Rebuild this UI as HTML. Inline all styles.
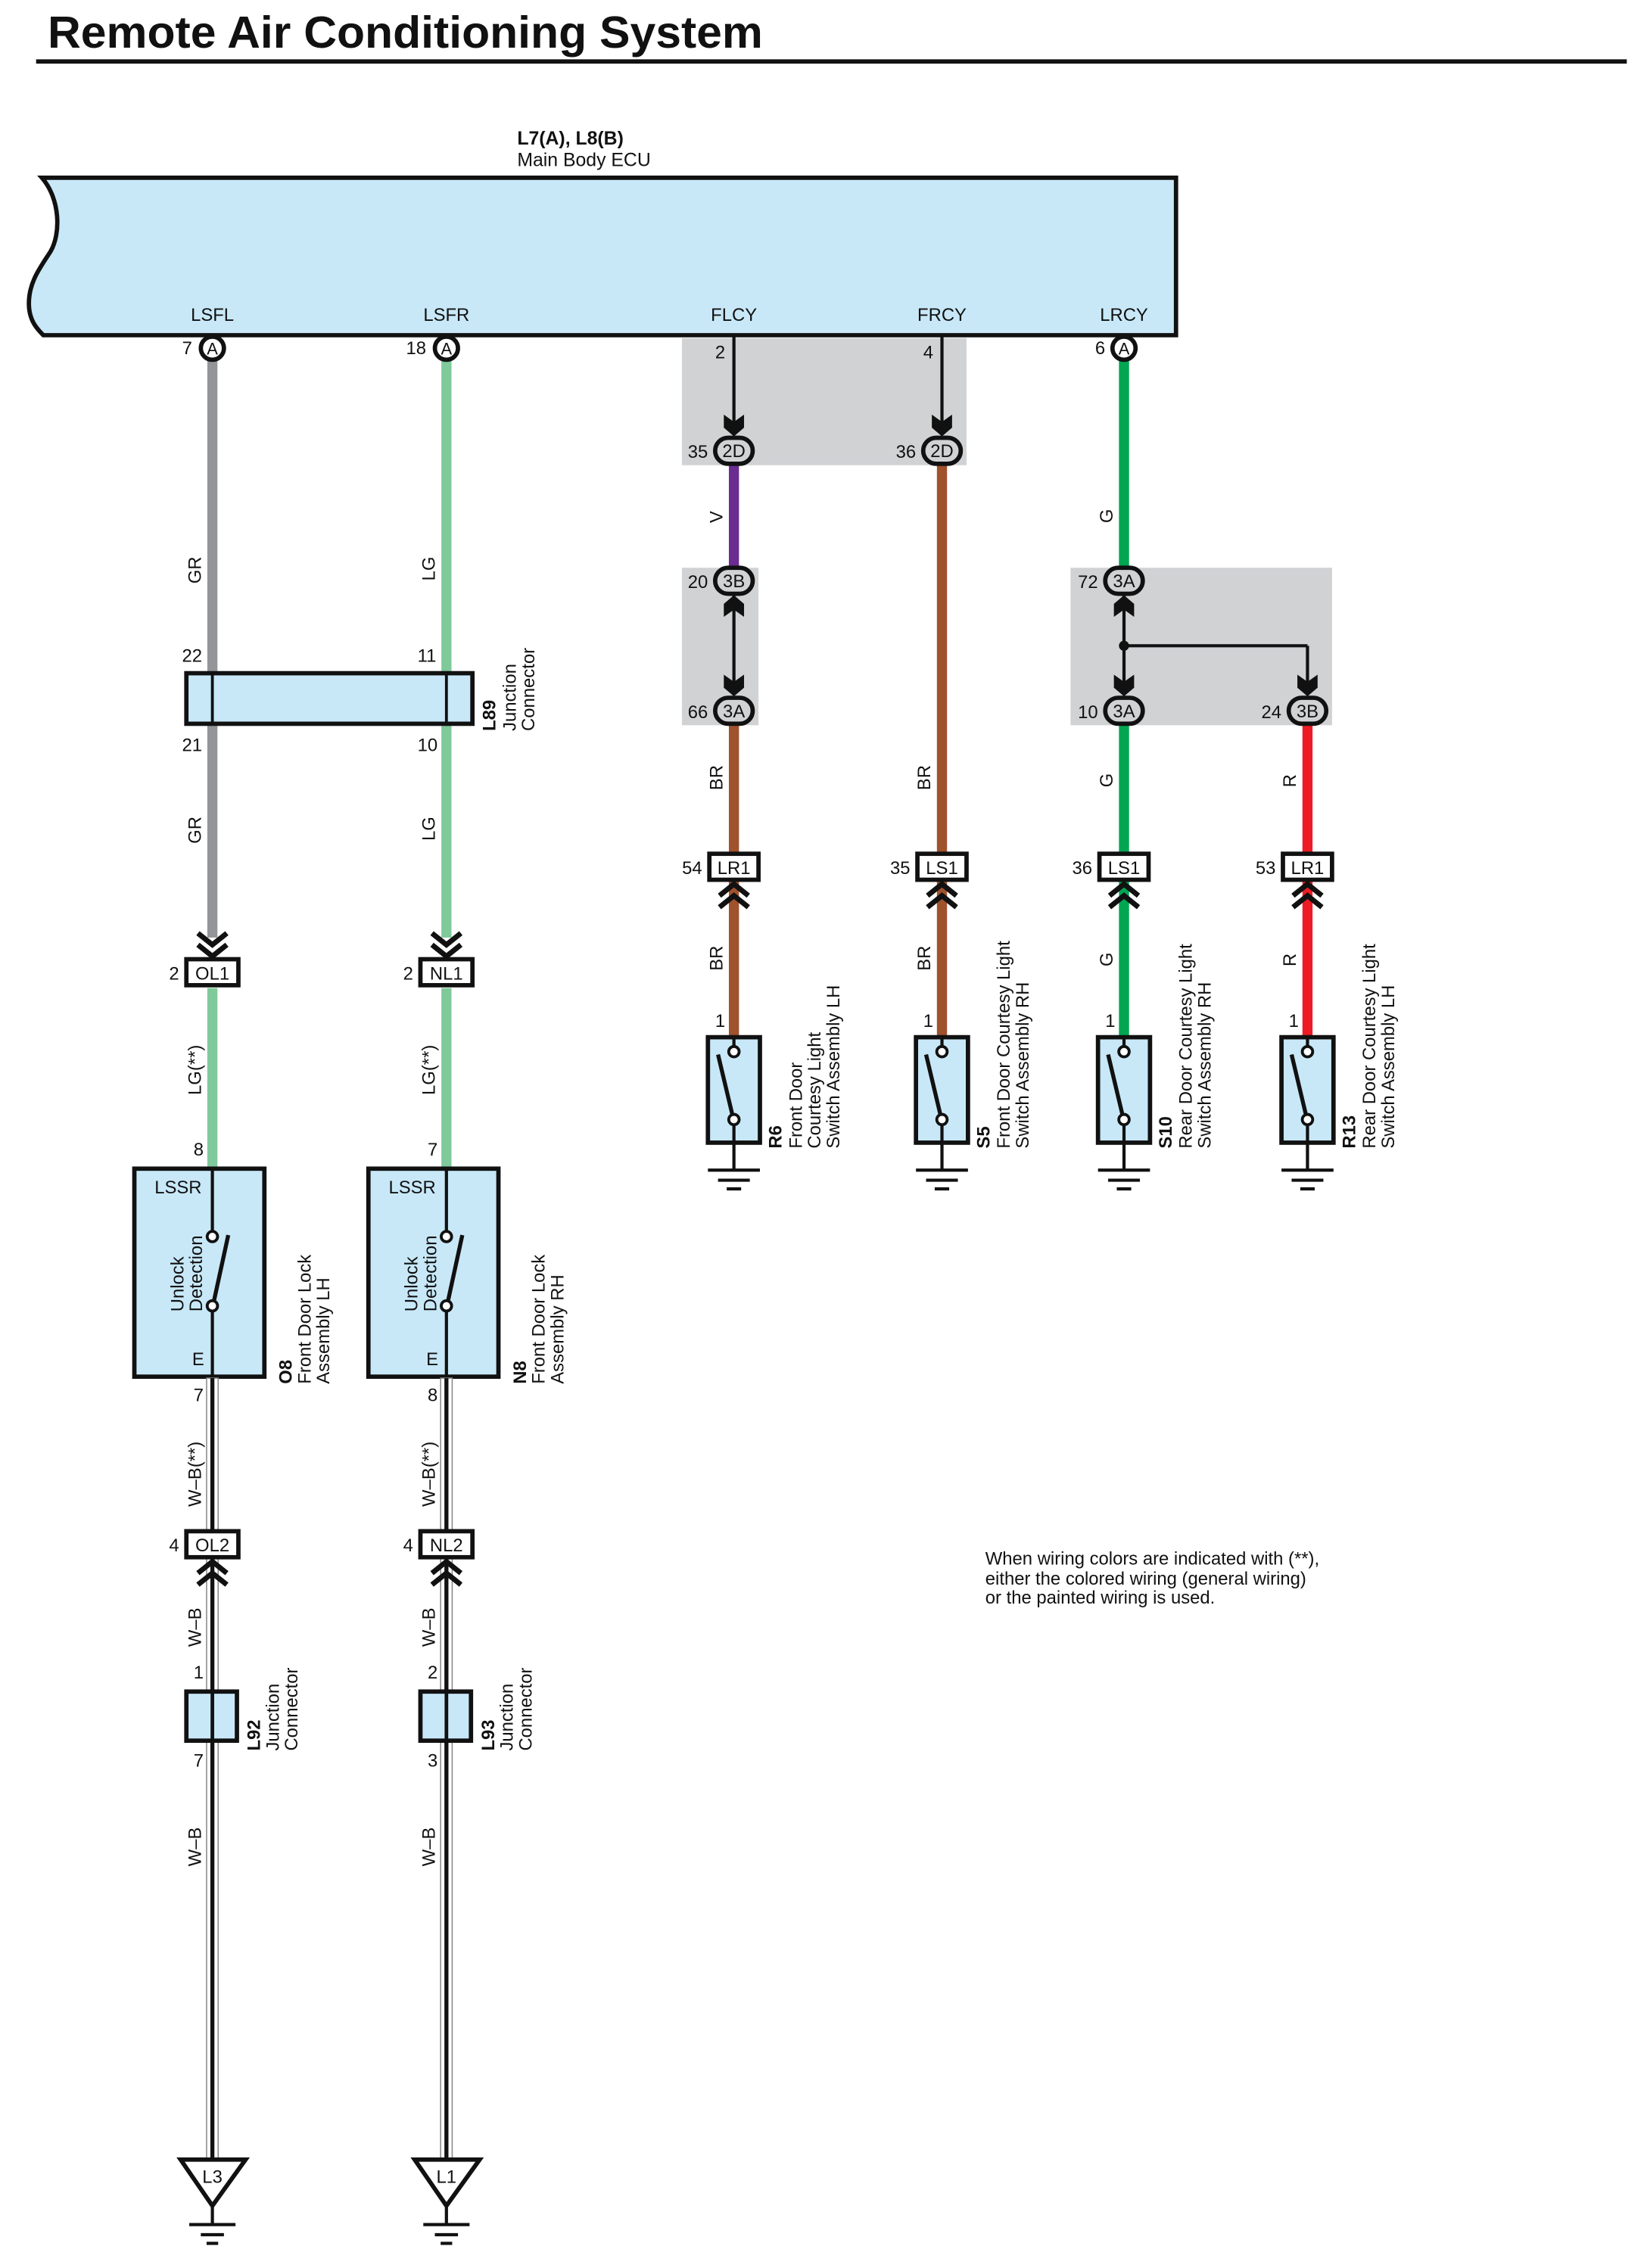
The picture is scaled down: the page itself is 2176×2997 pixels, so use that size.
<!DOCTYPE html>
<html><head><meta charset="utf-8"><style>
html,body{margin:0;padding:0;background:#fff}
svg{display:block}
text{font-family:"Liberation Sans",sans-serif;fill:#111}
.s{font-size:12.5px}
.b{font-weight:bold}
</style></head><body>
<svg width="2176" height="2997" viewBox="0 0 1140 1570" xmlns="http://www.w3.org/2000/svg">
<defs>
<g id="sw">
<rect x="-18" y="0" width="36" height="73" fill="#c8e8f8" stroke="#111" stroke-width="3"/>
<line x1="0" y1="0" x2="0" y2="6" stroke="#111" stroke-width="2.2"/>
<circle cx="0" cy="10" r="3.6" fill="#fff" stroke="#111" stroke-width="2"/>
<circle cx="0" cy="57" r="3.6" fill="#fff" stroke="#111" stroke-width="2"/>
<line x1="-11" y1="12" x2="-1" y2="54" stroke="#111" stroke-width="2.8"/>
<line x1="0" y1="61" x2="0" y2="92" stroke="#111" stroke-width="2.2"/>
<line x1="-18" y1="92" x2="18" y2="92" stroke="#111" stroke-width="2.2"/>
<line x1="-11" y1="99" x2="11" y2="99" stroke="#111" stroke-width="2.2"/>
<line x1="-5" y1="105" x2="5" y2="105" stroke="#111" stroke-width="2.2"/>
</g>
<g id="chd" fill="none" stroke="#111" stroke-width="3.6">
<polyline points="-10,-15 0,-7 10,-15"/><polyline points="-10,-7 0,1 10,-7"/>
</g>
<g id="chu" fill="none" stroke="#111" stroke-width="3.6">
<polyline points="-10,15 0,7 10,15"/><polyline points="-10,7 0,-1 10,7"/>
</g>
<polygon id="ard" points="-7,-15 0,-10 7,-15 7,-6 0,0 -7,-6" fill="#111"/>
<polygon id="aru" points="-7,15 0,10 7,15 7,6 0,0 -7,6" fill="#111"/>
</defs>

<!-- title -->
<text x="33" y="33" class="b" style="font-size:31px" textLength="495" lengthAdjust="spacingAndGlyphs">Remote Air Conditioning System</text>
<rect x="25" y="41" width="1101" height="3" fill="#111"/>

<!-- ECU -->
<text x="358" y="100" class="b" style="font-size:13px">L7(A), L8(B)</text>
<text x="358" y="115" style="font-size:13px">Main Body ECU</text>
<path d="M29,123 L814,123 L814,232 L30,232 C26,228 20,222 20,210 C20,195 28,185 35,174 C42,162 42,138 29,123 Z" fill="#c8e8f8" stroke="#111" stroke-width="3"/>
<g class="s" text-anchor="middle">
<text x="147" y="222">LSFL</text><text x="309" y="222">LSFR</text><text x="508" y="222">FLCY</text><text x="652" y="222">FRCY</text><text x="778" y="222">LRCY</text>
</g>

<!-- gray shaded boxes -->
<rect x="472" y="234" width="197" height="88" fill="#d1d2d4"/>
<rect x="472" y="393" width="53" height="109" fill="#d1d2d4"/>
<rect x="741" y="393" width="181" height="109" fill="#d1d2d4"/>

<!-- LEFT COLUMN 1 (x=147) -->
<rect x="143.5" y="249" width="7" height="400" fill="#939598"/>
<rect x="143.5" y="684" width="7" height="124" fill="#7fc99b"/>
<circle cx="147" cy="241" r="8" fill="#fff" stroke="#111" stroke-width="3"/>
<text x="147" y="245.5" class="s" text-anchor="middle" style="font-size:11.5px">A</text>
<text x="133" y="245" class="s" text-anchor="end">7</text>
<!-- COL 2 (x=309) -->
<rect x="305.5" y="249" width="7" height="400" fill="#7fc99b"/>
<rect x="305.5" y="684" width="7" height="124" fill="#7fc99b"/>
<circle cx="309" cy="241" r="8" fill="#fff" stroke="#111" stroke-width="3"/>
<text x="309" y="245.5" class="s" text-anchor="middle" style="font-size:11.5px">A</text>
<text x="295" y="245" class="s" text-anchor="end">18</text>

<!-- wire labels left -->
<g class="s">
<text transform="translate(139,404) rotate(-90)">GR</text>
<text transform="translate(301,402) rotate(-90)">LG</text>
<text transform="translate(139,584) rotate(-90)">GR</text>
<text transform="translate(301,582) rotate(-90)">LG</text>
<text transform="translate(139,758) rotate(-90)">LG(**)</text>
<text transform="translate(301,758) rotate(-90)">LG(**)</text>
<text transform="translate(139,1043) rotate(-90)">W–B(**)</text>
<text transform="translate(301,1043) rotate(-90)">W–B(**)</text>
<text transform="translate(139,1140) rotate(-90)">W–B</text>
<text transform="translate(301,1140) rotate(-90)">W–B</text>
<text transform="translate(139,1292) rotate(-90)">W–B</text>
<text transform="translate(301,1292) rotate(-90)">W–B</text>
</g>

<!-- L89 -->
<rect x="129" y="466" width="198" height="35" fill="#c8e8f8" stroke="#111" stroke-width="3"/>
<line x1="147" y1="466" x2="147" y2="501" stroke="#111" stroke-width="2"/>
<line x1="309" y1="466" x2="309" y2="501" stroke="#111" stroke-width="2"/>
<g class="s"><text x="126" y="458">22</text><text x="126" y="520">21</text><text x="289" y="458">11</text><text x="289" y="520">10</text></g>
<text transform="translate(343,506) rotate(-90)" class="s b">L89</text>
<text transform="translate(357,506) rotate(-90)" class="s">Junction</text>
<text transform="translate(370,506) rotate(-90)" class="s">Connector</text>

<!-- OL1 / NL1 -->
<use href="#chd" x="147" y="661"/>
<use href="#chd" x="309" y="661"/>
<rect x="129" y="664" width="36" height="18" fill="#fff" stroke="#111" stroke-width="3"/>
<rect x="291" y="664" width="36" height="18" fill="#fff" stroke="#111" stroke-width="3"/>
<g class="s"><text x="147" y="678" text-anchor="middle">OL1</text><text x="309" y="678" text-anchor="middle">NL1</text>
<text x="124" y="678" text-anchor="end">2</text><text x="286" y="678" text-anchor="end">2</text>
<text x="134" y="800">8</text><text x="296" y="800">7</text></g>

<!-- O8 / N8 -->
<g>
<rect x="93" y="809" width="90" height="144" fill="#c8e8f8" stroke="#111" stroke-width="3"/>
<line x1="147" y1="809" x2="147" y2="852" stroke="#111" stroke-width="2.2"/>
<circle cx="147" cy="856" r="3.6" fill="#fff" stroke="#111" stroke-width="2"/>
<circle cx="147" cy="904" r="3.6" fill="#fff" stroke="#111" stroke-width="2"/>
<line x1="148" y1="901" x2="158" y2="855" stroke="#111" stroke-width="2.8"/>
<line x1="147" y1="908" x2="147" y2="953" stroke="#111" stroke-width="2.2"/>
<text x="107" y="826" class="s">LSSR</text><text x="133" y="945" class="s">E</text>
<text transform="translate(127,908) rotate(-90)" class="s">Unlock</text>
<text transform="translate(140,908) rotate(-90)" class="s">Detection</text>
</g>
<g>
<rect x="255" y="809" width="90" height="144" fill="#c8e8f8" stroke="#111" stroke-width="3"/>
<line x1="309" y1="809" x2="309" y2="852" stroke="#111" stroke-width="2.2"/>
<circle cx="309" cy="856" r="3.6" fill="#fff" stroke="#111" stroke-width="2"/>
<circle cx="309" cy="904" r="3.6" fill="#fff" stroke="#111" stroke-width="2"/>
<line x1="310" y1="901" x2="320" y2="855" stroke="#111" stroke-width="2.8"/>
<line x1="309" y1="908" x2="309" y2="953" stroke="#111" stroke-width="2.2"/>
<text x="269" y="826" class="s">LSSR</text><text x="295" y="945" class="s">E</text>
<text transform="translate(289,908) rotate(-90)" class="s">Unlock</text>
<text transform="translate(302,908) rotate(-90)" class="s">Detection</text>
</g>
<text transform="translate(202,958) rotate(-90)" class="s b">O8</text>
<text transform="translate(215,958) rotate(-90)" class="s">Front Door Lock</text>
<text transform="translate(228,958) rotate(-90)" class="s">Assembly LH</text>
<text transform="translate(364,958) rotate(-90)" class="s b">N8</text>
<text transform="translate(377,958) rotate(-90)" class="s">Front Door Lock</text>
<text transform="translate(390,958) rotate(-90)" class="s">Assembly RH</text>

<!-- W-B wires -->
<g>
<rect x="143" y="954" width="8" height="541" fill="#fff" stroke="#888" stroke-width="0.8"/>
<rect x="145.6" y="954" width="2.8" height="541" fill="#111"/>
<rect x="305" y="954" width="8" height="541" fill="#fff" stroke="#888" stroke-width="0.8"/>
<rect x="307.6" y="954" width="2.8" height="541" fill="#111"/>
</g>
<g class="s"><text x="134" y="970">7</text><text x="296" y="970">8</text></g>
<!-- OL2 NL2 -->
<rect x="129" y="1060" width="36" height="18" fill="#fff" stroke="#111" stroke-width="3"/>
<rect x="291" y="1060" width="36" height="18" fill="#fff" stroke="#111" stroke-width="3"/>
<g class="s"><text x="147" y="1074" text-anchor="middle">OL2</text><text x="309" y="1074" text-anchor="middle">NL2</text>
<text x="124" y="1074" text-anchor="end">4</text><text x="286" y="1074" text-anchor="end">4</text></g>
<use href="#chu" x="147" y="1082"/>
<use href="#chu" x="309" y="1082"/>
<!-- L92 L93 -->
<rect x="129" y="1171" width="35" height="34" fill="#c8e8f8" stroke="#111" stroke-width="3"/>
<rect x="291" y="1171" width="35" height="34" fill="#c8e8f8" stroke="#111" stroke-width="3"/>
<line x1="147" y1="1171" x2="147" y2="1205" stroke="#111" stroke-width="2.5"/>
<line x1="309" y1="1171" x2="309" y2="1205" stroke="#111" stroke-width="2.5"/>
<g class="s"><text x="134" y="1162">1</text><text x="134" y="1223">7</text><text x="296" y="1162">2</text><text x="296" y="1223">3</text></g>
<text transform="translate(180,1212) rotate(-90)" class="s b">L92</text>
<text transform="translate(193,1212) rotate(-90)" class="s">Junction</text>
<text transform="translate(206,1212) rotate(-90)" class="s">Connector</text>
<text transform="translate(342,1212) rotate(-90)" class="s b">L93</text>
<text transform="translate(355,1212) rotate(-90)" class="s">Junction</text>
<text transform="translate(368,1212) rotate(-90)" class="s">Connector</text>
<!-- ground triangles -->
<g fill="#fff" stroke="#111" stroke-width="3">
<polygon points="125,1495 170,1495 147,1527"/>
<polygon points="287,1495 332,1495 309,1527"/>
</g>
<g stroke="#111" stroke-width="2.2">
<line x1="147" y1="1527" x2="147" y2="1540"/><line x1="131" y1="1540" x2="163" y2="1540"/><line x1="139" y1="1547" x2="155" y2="1547"/><line x1="143" y1="1553" x2="151" y2="1553"/>
<line x1="309" y1="1527" x2="309" y2="1540"/><line x1="293" y1="1540" x2="325" y2="1540"/><line x1="301" y1="1547" x2="317" y2="1547"/><line x1="305" y1="1553" x2="313" y2="1553"/>
</g>
<g class="s"><text x="147" y="1511" text-anchor="middle">L3</text><text x="309" y="1511" text-anchor="middle">L1</text></g>

<!-- RIGHT SIDE wires -->
<rect x="504.5" y="322" width="7" height="72" fill="#6b2c91"/>
<rect x="504.5" y="500" width="7" height="220" fill="#a0522d"/>
<rect x="648.5" y="320" width="7" height="400" fill="#a0522d"/>
<rect x="774.5" y="249" width="7" height="145" fill="#00a651"/>
<rect x="774.5" y="500" width="7" height="220" fill="#00a651"/>
<rect x="901.5" y="500" width="7" height="220" fill="#ed1c24"/>

<!-- black lines in gray boxes -->
<g stroke="#111" stroke-width="2.2">
<line x1="508" y1="232" x2="508" y2="298"/>
<line x1="652" y1="232" x2="652" y2="298"/>
<line x1="508" y1="412" x2="508" y2="478"/>
<line x1="778" y1="412" x2="778" y2="478"/>
<line x1="778" y1="447" x2="905" y2="447"/>
<line x1="905" y1="447" x2="905" y2="478"/>
</g>
<circle cx="778" cy="447" r="3.5" fill="#111"/>
<use href="#ard" x="508" y="302"/>
<use href="#ard" x="652" y="302"/>
<use href="#aru" x="508" y="412"/>
<use href="#ard" x="508" y="482"/>
<use href="#aru" x="778" y="412"/>
<use href="#ard" x="778" y="482"/>
<use href="#ard" x="905" y="482"/>

<!-- ovals -->
<g fill="#d1d2d4" stroke="#111" stroke-width="3">
<rect x="495" y="303" width="26" height="18" rx="9"/>
<rect x="639" y="303" width="26" height="18" rx="9"/>
<rect x="495" y="393" width="26" height="18" rx="9"/>
<rect x="495" y="483" width="26" height="18" rx="9"/>
<rect x="765" y="393" width="26" height="18" rx="9"/>
<rect x="765" y="483" width="26" height="18" rx="9"/>
<rect x="892" y="483" width="26" height="18" rx="9"/>
</g>
<circle cx="778" cy="241" r="8" fill="#fff" stroke="#111" stroke-width="3"/>
<g class="s" text-anchor="middle">
<text x="508" y="316.5">2D</text><text x="652" y="316.5">2D</text>
<text x="508" y="406.5">3B</text><text x="508" y="496.5">3A</text>
<text x="778" y="406.5">3A</text><text x="778" y="496.5">3A</text><text x="905" y="496.5">3B</text>
<text x="778" y="245.5" style="font-size:11.5px">A</text>
</g>
<g class="s" text-anchor="end">
<text x="490" y="317">35</text><text x="634" y="317">36</text>
<text x="490" y="407">20</text><text x="490" y="497">66</text>
<text x="760" y="407">72</text><text x="760" y="497">10</text><text x="887" y="497">24</text>
<text x="765" y="245">6</text>
<text x="502" y="248">2</text><text x="646" y="248">4</text>
</g>
<!-- wire labels right -->
<g class="s">
<text transform="translate(500,362) rotate(-90)">V</text>
<text transform="translate(770,362) rotate(-90)">G</text>
<text transform="translate(500,547) rotate(-90)">BR</text>
<text transform="translate(644,547) rotate(-90)">BR</text>
<text transform="translate(770,545) rotate(-90)">G</text>
<text transform="translate(897,545) rotate(-90)">R</text>
<text transform="translate(500,672) rotate(-90)">BR</text>
<text transform="translate(644,672) rotate(-90)">BR</text>
<text transform="translate(770,669) rotate(-90)">G</text>
<text transform="translate(897,669) rotate(-90)">R</text>
</g>
<!-- LR1/LS1 boxes -->
<g fill="#fff" stroke="#111" stroke-width="3">
<rect x="491" y="591" width="34" height="18"/>
<rect x="635" y="591" width="34" height="18"/>
<rect x="761" y="591" width="34" height="18"/>
<rect x="888" y="591" width="34" height="18"/>
</g>
<g class="s" text-anchor="middle">
<text x="508" y="605">LR1</text><text x="652" y="605">LS1</text><text x="778" y="605">LS1</text><text x="905" y="605">LR1</text>
</g>
<g class="s" text-anchor="end">
<text x="486" y="605">54</text><text x="630" y="605">35</text><text x="756" y="605">36</text><text x="883" y="605">53</text>
</g>
<use href="#chu" x="508" y="613"/>
<use href="#chu" x="652" y="613"/>
<use href="#chu" x="778" y="613"/>
<use href="#chu" x="905" y="613"/>
<!-- switches -->
<use href="#sw" x="508" y="718"/>
<use href="#sw" x="652" y="718"/>
<use href="#sw" x="778" y="718"/>
<use href="#sw" x="905" y="718"/>
<g class="s"><text x="495" y="711">1</text><text x="639" y="711">1</text><text x="765" y="711">1</text><text x="892" y="711">1</text></g>
<!-- device labels -->
<g class="s">
<text transform="translate(541,795) rotate(-90)" class="b">R6</text>
<text transform="translate(555,795) rotate(-90)">Front Door</text>
<text transform="translate(568,795) rotate(-90)">Courtesy Light</text>
<text transform="translate(581,795) rotate(-90)">Switch Assembly LH</text>
<text transform="translate(685,795) rotate(-90)" class="b">S5</text>
<text transform="translate(699,795) rotate(-90)">Front Door Courtesy Light</text>
<text transform="translate(712,795) rotate(-90)">Switch Assembly RH</text>
<text transform="translate(811,795) rotate(-90)" class="b">S10</text>
<text transform="translate(825,795) rotate(-90)">Rear Door Courtesy Light</text>
<text transform="translate(838,795) rotate(-90)">Switch Assembly RH</text>
<text transform="translate(938,795) rotate(-90)" class="b">R13</text>
<text transform="translate(952,795) rotate(-90)">Rear Door Courtesy Light</text>
<text transform="translate(965,795) rotate(-90)">Switch Assembly LH</text>
</g>

<!-- note -->
<g class="s">
<text x="682" y="1083">When wiring colors are indicated with (**),</text>
<text x="682" y="1097">either the colored wiring (general wiring)</text>
<text x="682" y="1110">or the painted wiring is used.</text>
</g>
</svg>
</body></html>
